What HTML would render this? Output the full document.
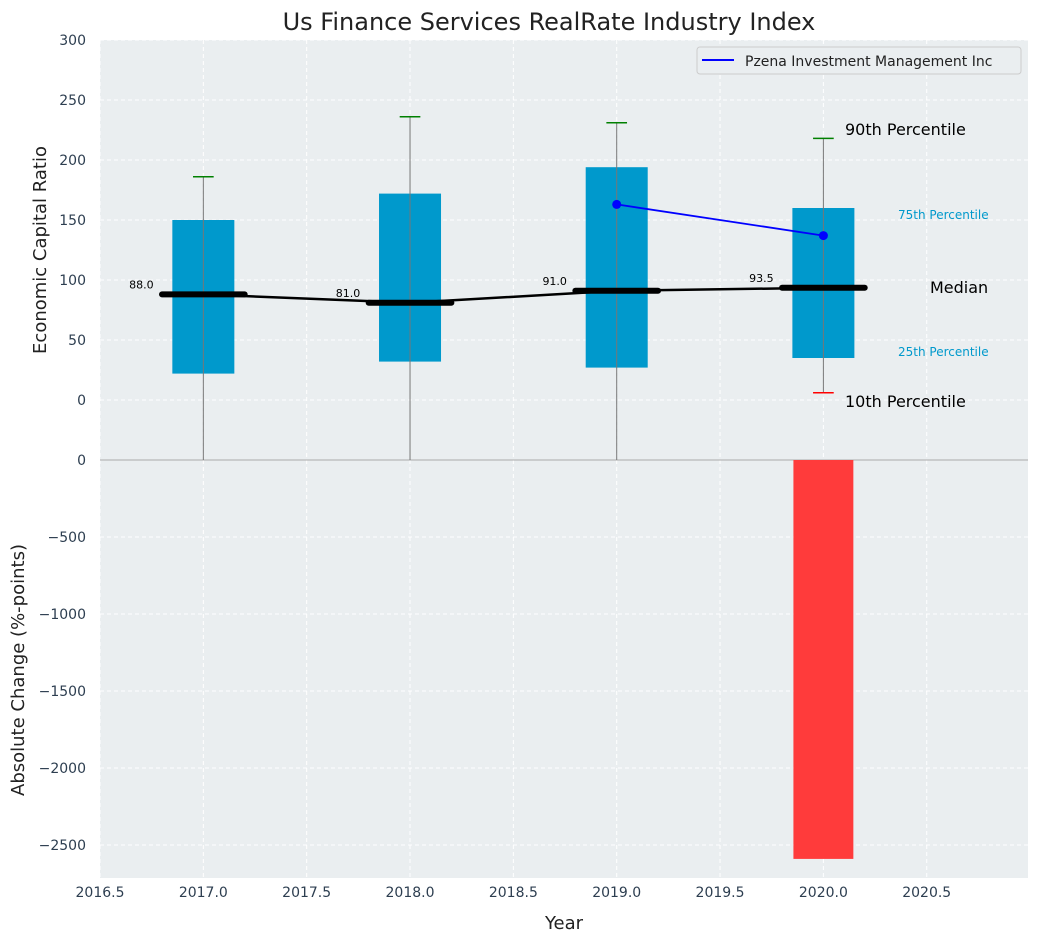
<!DOCTYPE html>
<html><head><meta charset="utf-8"><style>
body{margin:0;background:#fff;font-family:"Liberation Sans","DejaVu Sans",sans-serif}
svg text{font-family:"DejaVu Sans","Liberation Sans",sans-serif}
</style></head><body>
<svg id="c" width="1039" height="942" xmlns="http://www.w3.org/2000/svg"></svg>
<script>
const years=[2017,2018,2019,2020];
const p10=[null,null,null,6];
const q1=[22,32,27,35];
const medians=[88,81,91,93.5];
const q3=[150,172,194,160];
const p90=[186,236,231,218];
const pzenaYears=[2019,2020];
const pzenaVals=[163,137];
const changeYears=[2020];
const changeVals=[-2590];
const xTicks=[2016.5,2017,2017.5,2018,2018.5,2019,2019.5,2020,2020.5];
const topTicks=[0,50,100,150,200,250,300];
const botTicks=[0,-500,-1000,-1500,-2000,-2500];

const NS="http://www.w3.org/2000/svg";
const svg=document.getElementById('c');
const L=100,R=1028,T1=40,B1=460,B2=878;
const X=v=>L+(v-2016.5)*(R-L)/(2020.99-2016.5);
const Y1=v=>T1+(300-v)*(B1-T1)/350;
const Y2=v=>B1+(0-v)*(B2-B1)/2714;
function el(t,a,p){const e=document.createElementNS(NS,t);for(const k in a)e.setAttribute(k,a[k]);(p||svg).appendChild(e);return e;}
function tx(s,x,y,a,p){const e=el('text',Object.assign({x:x,y:y},a),p);e.textContent=s;return e;}

let bg=el('rect',{x:L,y:T1,width:R-L,height:B2-T1,fill:'#eaeef0'});


// grid
xTicks.forEach(v=>{el('line',{x1:X(v),x2:X(v),y1:T1,y2:B2,stroke:'#fff','stroke-dasharray':'4,3','stroke-width':1});
 let t=tx(v.toFixed(1),X(v),897,{'text-anchor':'middle','font-size':14,fill:'#2d3e50'});
 
 });
topTicks.forEach(v=>{el('line',{x1:L,x2:R,y1:Y1(v),y2:Y1(v),stroke:'#fff','stroke-dasharray':'4,3'});
 let t=tx(String(v),86,Y1(v)+5,{'text-anchor':'end','font-size':14,fill:'#2d3e50'});
 
 });
botTicks.forEach(v=>{el('line',{x1:L,x2:R,y1:Y2(v),y2:Y2(v),stroke:'#fff','stroke-dasharray':'4,3'});
 let t=tx(String(v).replace('-','−'),86,Y2(v)+5,{'text-anchor':'end','font-size':14,fill:'#2d3e50'});
 
 });
el('line',{x1:L,x2:R,y1:B1,y2:B1,stroke:'#aaa','stroke-width':1});

// change bars
changeYears.forEach((y,i)=>{const v=changeVals[i];
 let r=el('rect',{x:X(y-0.145),y:Y2(0),width:X(y+0.145)-X(y-0.145),height:Y2(v)-Y2(0),fill:'#ff3b3b'});
 
 });

// boxes
const clip=el('clipPath',{id:'cp'});el('rect',{x:L,y:T1,width:R-L,height:B1-T1},clip);
const g=el('g',{'clip-path':'url(#cp)'});
years.forEach((y,i)=>{
 let b=el('rect',{x:X(y-0.15),y:Y1(q3[i]),width:X(y+0.15)-X(y-0.15),height:Y1(q1[i])-Y1(q3[i]),fill:'#0099cc'},g);
 
 
 const lo=p10[i]===null?-60:p10[i];
 el('line',{x1:X(y),x2:X(y),y1:Y1(p90[i]),y2:Y1(lo),stroke:'#777','stroke-width':1},g);
 el('line',{x1:X(y-0.05),x2:X(y+0.05),y1:Y1(p90[i]),y2:Y1(p90[i]),stroke:'green','stroke-width':1.5},g);
 if(p10[i]!==null)el('line',{x1:X(y-0.05),x2:X(y+0.05),y1:Y1(p10[i]),y2:Y1(p10[i]),stroke:'red','stroke-width':1.5},g);
});
// median connecting line
let pts=years.map((y,i)=>X(y)+','+Y1(medians[i])).join(' ');
el('polyline',{points:pts,fill:'none',stroke:'#000','stroke-width':2.5},g);
years.forEach((y,i)=>{
 let m=el('line',{x1:X(y-0.2),x2:X(y+0.2),y1:Y1(medians[i]),y2:Y1(medians[i]),stroke:'#000','stroke-width':6,'stroke-linecap':'round'},g);
 
 
 let t=tx(medians[i].toFixed(1),X(y-0.3),Y1(medians[i])+14-17*0+(-4),{'text-anchor':'middle','font-size':11,fill:'#000'});
 t.setAttribute('y',Y1(medians[i])-6);
 
 
});
// pzena
el('polyline',{points:pzenaYears.map((y,i)=>X(y)+','+Y1(pzenaVals[i])).join(' '),fill:'none',stroke:'blue','stroke-width':1.8});
pzenaYears.forEach((y,i)=>{let c=el('circle',{cx:X(y),cy:Y1(pzenaVals[i]),r:4.5,fill:'blue'});
 
 });

// annotations
const ann=[["90th Percentile",845,135,16,'#000'],["75th Percentile",898,219,12,'#0099cc'],["Median",930,293,16,'#000'],["25th Percentile",898,356,12,'#0099cc'],["10th Percentile",845,407,16,'#000']];
ann.forEach(a=>{let t=tx(a[0],a[1],a[2],{'font-size':a[3],fill:a[4]});
 
 });

// legend
const lg=el('g',{});


el('rect',{x:697,y:47,width:324,height:27,rx:3,fill:'#eaeef0',stroke:'#ccc'},lg);
el('line',{x1:702,x2:734,y1:60,y2:60,stroke:'blue','stroke-width':2},lg);
tx("Pzena Investment Management Inc",745,66,{'font-size':14,fill:'#222'},lg);

let title=tx("Us Finance Services RealRate Industry Index",549,30,{'text-anchor':'middle','font-size':24,fill:'#222'});


let xt=tx("Year",564,929,{'text-anchor':'middle','font-size':18,fill:'#222'});


let y1t=tx("Economic Capital Ratio",0,0,{'text-anchor':'middle','font-size':18,fill:'#222',transform:'translate(46,250) rotate(-90)'});


let y2t=tx("Absolute Change (%-points)",0,0,{'text-anchor':'middle','font-size':18,fill:'#222',transform:'translate(24,670) rotate(-90)'});


</script>
</body></html>
